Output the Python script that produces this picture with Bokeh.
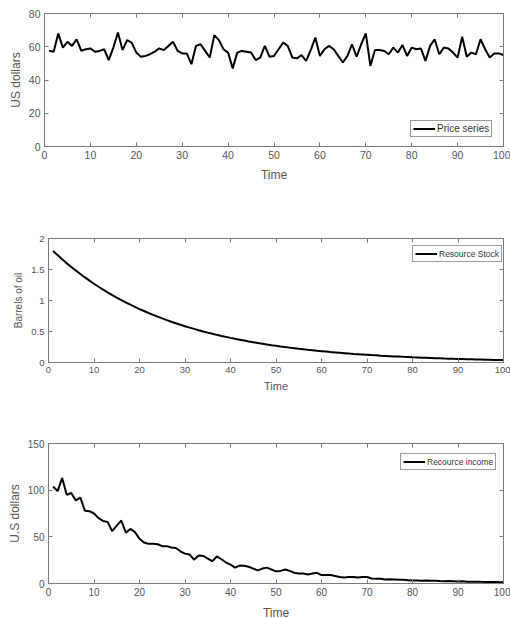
from bokeh.plotting import figure
from bokeh.models import LinearAxis, FixedTicker, Range1d
from bokeh.embed import file_html
from bokeh.resources import INLINE

# ---------------- data ----------------
time = list(range(1, 101))

price = [57.6, 57.0, 68.0, 59.5, 63.0, 60.5, 64.5, 57.6, 58.5, 59.0,
         57.0, 57.5, 58.5, 52.0, 59.5, 68.5, 58.0, 64.0, 62.5, 56.5,
         54.0, 54.5, 55.5, 57.0, 59.0, 58.0, 60.5, 63.0, 57.5, 56.0,
         56.0, 49.5, 60.5, 61.5, 57.5, 53.5, 67.0, 64.0, 58.5, 56.5,
         47.0, 56.5, 57.5, 57.0, 56.5, 52.0, 53.5, 60.5, 54.0, 54.5,
         58.5, 62.5, 60.5, 53.5, 53.0, 55.0, 51.5, 58.0, 65.5, 54.5,
         58.5, 60.5, 58.5, 54.5, 50.5, 54.5, 61.5, 54.0, 61.5, 68.0,
         48.5, 58.0, 58.0, 57.5, 55.5, 59.5, 56.5, 61.0, 54.5, 59.5,
         58.5, 59.0, 51.5, 60.5, 64.5, 55.5, 59.5, 59.0, 56.5, 53.5,
         66.0, 54.0, 56.5, 55.5, 64.5, 58.5, 53.5, 56.0, 56.0, 55.0]

stock = [1.800, 1.732, 1.666, 1.602, 1.541, 1.483, 1.427, 1.372, 1.320, 1.270,
         1.222, 1.175, 1.131, 1.088, 1.046, 1.007, 0.968, 0.932, 0.896, 0.862,
         0.830, 0.798, 0.768, 0.739, 0.711, 0.684, 0.658, 0.633, 0.609, 0.585,
         0.563, 0.542, 0.521, 0.501, 0.482, 0.464, 0.446, 0.429, 0.413, 0.397,
         0.382, 0.368, 0.354, 0.340, 0.327, 0.315, 0.303, 0.291, 0.280, 0.270,
         0.259, 0.249, 0.240, 0.231, 0.222, 0.214, 0.205, 0.198, 0.190, 0.183,
         0.176, 0.169, 0.163, 0.157, 0.151, 0.145, 0.139, 0.134, 0.129, 0.124,
         0.119, 0.115, 0.110, 0.106, 0.102, 0.098, 0.095, 0.091, 0.088, 0.084,
         0.081, 0.078, 0.075, 0.072, 0.069, 0.067, 0.064, 0.062, 0.059, 0.057,
         0.055, 0.053, 0.051, 0.049, 0.047, 0.045, 0.044, 0.042, 0.040, 0.039]

income = [104, 99, 113, 95, 97, 89, 92, 78, 77.5, 75,
          70, 67, 66, 56, 62, 67.5, 54.5, 58.5, 55, 48,
          44, 42.5, 42.5, 42, 40, 40, 38.5, 38, 34.5, 32,
          31, 25.5, 30, 29.5, 26.7, 24, 29, 26, 22.5, 20.3,
          17, 19.2, 19, 18, 16, 14, 16, 17, 15, 13,
          13.5, 15, 13.5, 11.5, 10.7, 10.7, 9.6, 10.7, 11.5, 9,
          9, 9, 8, 7, 6.5, 7, 7, 6.5, 7, 7,
          5.3, 5, 5, 4.3, 4.6, 4.3, 4, 4, 3.6, 3.2,
          3.2, 3.0, 3.2, 2.9, 3.0, 2.7, 2.5, 2.6, 2.4, 2.2,
          2.3, 2.0, 1.9, 2.0, 1.8, 1.7, 1.6, 1.7, 1.5, 1.4]

x_ticks = [0, 10, 20, 30, 40, 50, 60, 70, 80, 90, 100]
price_ticks = [0, 20, 40, 60, 80]
stock_ticks = [0, 0.5, 1, 1.5, 2]
income_ticks = [0, 50, 100, 150]

FONT = "Liberation Sans"
AX = "#7a7a7a"
TXT = "#555555"


def style_axis(ax, ticks, tick_size, show_labels=True, label_size="12px", label_standoff=3):
    ax.ticker = FixedTicker(ticks=ticks)
    ax.axis_line_color = AX
    ax.major_tick_line_color = AX
    ax.major_tick_in = 4
    ax.major_tick_out = 0
    ax.minor_tick_line_color = None
    ax.major_label_text_font = FONT
    ax.major_label_text_color = TXT
    ax.major_label_text_font_size = tick_size
    ax.axis_label_text_font = FONT
    ax.axis_label_text_font_style = "normal"
    ax.axis_label_text_color = TXT
    ax.axis_label_text_font_size = label_size
    if show_labels:
        ax.major_label_standoff = 4
        ax.axis_label_standoff = label_standoff
    else:
        ax.major_label_overrides = {t: "" for t in ticks}
        ax.major_label_standoff = 0
        ax.axis_label = None


def make_panel(y, ymax, yticks, ylabel, legend_label, fw, fh, bl, br, bt, bb,
               tick_size, xlabel_size, ylabel_size, x_so, y_so,
               leg_loc, leg_size, overrides=None):
    p = figure(frame_width=fw, frame_height=fh, output_backend="svg",
               toolbar_location=None, x_range=Range1d(0, 100), y_range=Range1d(0, ymax),
               min_border_left=bl, min_border_right=br, min_border_top=bt,
               min_border_bottom=bb)
    p.xgrid.visible = False
    p.ygrid.visible = False
    p.outline_line_color = AX
    p.background_fill_color = "white"
    p.border_fill_color = "white"
    p.line(time, y, line_color="black", line_width=2, legend_label=legend_label)

    style_axis(p.xaxis[0], x_ticks, tick_size, label_size=xlabel_size, label_standoff=x_so)
    p.xaxis[0].axis_label = "Time"
    style_axis(p.yaxis[0], yticks, tick_size, label_size=ylabel_size, label_standoff=y_so)
    p.yaxis[0].axis_label = ylabel
    if overrides:
        p.yaxis[0].major_label_overrides = overrides

    top = LinearAxis()
    style_axis(top, x_ticks, tick_size, show_labels=False)
    p.add_layout(top, "above")
    right = LinearAxis()
    style_axis(right, yticks, tick_size, show_labels=False)
    p.add_layout(right, "right")

    lg = p.legend[0]
    lg.location = leg_loc
    lg.border_line_color = "#333333"
    lg.border_line_width = 1
    lg.background_fill_color = "white"
    lg.background_fill_alpha = 1
    lg.padding = 2
    lg.margin = 0
    lg.spacing = 0
    lg.glyph_width = 22
    lg.glyph_height = 11
    lg.label_height = 11
    lg.label_standoff = 2
    lg.label_text_font = FONT
    lg.label_text_font_size = leg_size
    lg.label_text_color = "#333333"
    return p


p1 = make_panel(price, 80, price_ticks, "US dollars", "Price series",
                fw=459, fh=133, bl=44, br=7, bt=13, bb=54,
                tick_size="10.5px", xlabel_size="12px", ylabel_size="12px",
                x_so=6, y_so=3,
                leg_loc=(366, 9), leg_size="10px")

p2 = make_panel(stock, 2, stock_ticks, "Barrels of oil", "Resource Stock",
                fw=455, fh=124, bl=48, br=7, bt=38, bb=48,
                tick_size="9.5px", xlabel_size="11px", ylabel_size="10px",
                x_so=4, y_so=4,
                leg_loc=(364, 100), leg_size="8.5px",
                overrides={0: "0", 1: "1", 2: "2"})

p3 = make_panel(income, 150, income_ticks, "U.S dollars", "Recource income",
                fw=455, fh=140, bl=48, br=7, bt=33, bb=35,
                tick_size="10px", xlabel_size="12px", ylabel_size="12px",
                x_so=7, y_so=3,
                leg_loc=(352, 113), leg_size="8.5px")

open("out.html", "w").write(file_html([p1, p2, p3], INLINE))
